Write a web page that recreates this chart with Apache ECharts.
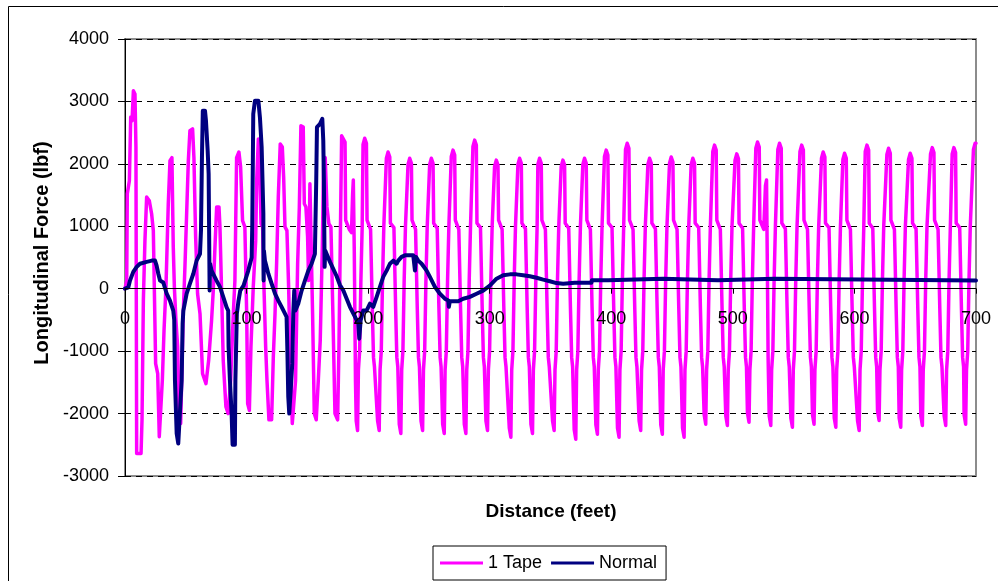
<!DOCTYPE html>
<html>
<head>
<meta charset="utf-8">
<title>Longitudinal Force vs Distance</title>
<script src="https://cdn.jsdelivr.net/npm/echarts@6/dist/echarts.min.js"></script>
<style>
  html, body { margin: 0; padding: 0; background: #ffffff; }
  #chart { width: 998px; height: 581px; }
</style>
</head>
<body>
<div id="chart"></div>
<script>
// Axis ticks
const distanceTicks = [0, 100, 200, 300, 400, 500, 600, 700];
const forceTicks = [-3000, -2000, -1000, 0, 1000, 2000, 3000, 4000];

// Series names
const seriesNames = ['1 Tape', 'Normal'];

// "1 Tape" run: [distance (ft), longitudinal force (lbf)]
const tapeForce = [
  [0,0],[1.4,130],[1.9,1520],[3.6,1730],[4.7,2750],[5.8,2690],[6.9,3170],[8.2,3120],[9.0,2270],[9.6,-2640],
  [13.2,-2640],[14.0,-2100],[15.1,-190],[16.4,770],[17.8,1470],[20.0,1410],[21.9,1200],[23.3,930],[24.1,30],
  [25.2,-1200],[26.9,-1360],[28.2,-2370],[29.3,-2400],[30.7,-1470],[32.1,-670],[33.7,30],[35.6,1360],[37.0,2050],
  [38.6,2100],[39.7,670],[40.6,30],[41.9,-510],[43.3,-930],[44.4,-1950],[45.8,-2160],[47.9,-400],[49.3,350],
  [50.7,1200],[52.1,2050],[53.4,2530],[55.6,2560],[56.7,2100],[58.1,830],[59.7,-80],[61.7,-400],[63.8,-1360],
  [66.6,-1520],[68.8,-1150],[71.2,-510],[72.6,-30],[74.0,670],[75.4,1310],[77.3,1310],[78.1,990],[79.5,-80],
  [80.8,-1150],[83.0,-1890],[84.9,-2000],[86.9,-1470],[89.1,-400],[90.4,130],[91.8,2100],[93.7,2190],[95.1,1950],
  [96.7,1090],[98.6,990],[100.1,-400],[100.9,-1840],[102.3,-1950],[103.6,-930],[105.5,30],[107.5,770],[108.3,1730],
  [109.7,2400],[110.8,1950],[111.9,1040],[113.2,990],[114.3,30],[115.7,-930],[116.8,-1470],[118.4,-2100],[120.6,-2100],
  [122.0,-1090],[123.4,-400],[124.7,400],[126.1,1470],[127.7,2320],[129.4,2270],[130.5,1790],[131.6,990],[133.2,930],
  [134.6,30],[136.0,-1200],[137.6,-2160],[139.2,-2190],[140.3,-1470],[142.0,400],[143.4,1310],[144.7,2610],[146.6,2590],
  [147.5,1360],[148.8,1310],[150.2,830],[151.0,130],[152.1,1680],[153.2,1680],[154.3,-400],[155.7,-2000],[157.3,-2100],
  [159.0,-1470],[160.6,-830],[162.3,670],[163.4,2000],[164.7,2100],[166.1,1310],[167.7,1040],[169.4,990],[171.0,-400],
  [172.7,-2000],[174.9,-2100],[176.0,-930],[177.1,770],[178.2,2450],[179.8,2430],
  [181.0,2350],[181.5,1100],[184.5,950],[186.3,900],[187.2,1500],[187.8,1740],[188.6,600],[189.6,-1500],[190.2,-2120],
  [191.3,-2270],[192.0,-1300],[193.0,-1000],[194.0,100],[195.1,1000],
  [195.8,2310],[197.2,2410],[198.6,2330],[199.1,1100],[202.0,950],[203.4,-300],[204.4,-1100],[205.2,-1250],[207.8,-2120],[209.1,-2270],[209.8,-1300],[210.8,-1000],[211.8,100],[212.9,1000],
  [215.0,2090],[216.4,2190],[217.8,2110],[218.3,1050],[221.2,980],[222.6,-300],[223.6,-1100],[224.4,-1250],[225.6,-2170],[226.9,-2320],[227.6,-1300],[228.6,-1000],[229.6,100],[230.7,1000],
  [232.8,1990],[234.2,2090],[235.6,2010],[236.1,1100],[239.0,950],[240.4,-300],[241.4,-1100],[242.2,-1250],[243.5,-2120],[244.8,-2270],[245.5,-1300],[246.5,-1000],[247.5,100],[248.6,1000],
  [250.6,1990],[252.0,2090],[253.4,2010],[253.9,1050],[256.8,970],[258.2,-300],[259.2,-1100],[260.0,-1250],[261.3,-2170],[262.6,-2320],[263.3,-1300],[264.3,-1000],[265.3,100],[266.4,1000],
  [268.4,2120],[269.8,2220],[271.2,2140],[271.7,1100],[274.6,950],[276.0,-300],[277.0,-1100],[277.8,-1250],[279.1,-2170],[280.4,-2320],[281.1,-1300],[282.1,-1000],[283.1,100],[284.2,1000],
  [286.2,2280],[287.6,2380],[289.0,2300],[289.5,1050],[292.4,980],[293.8,-300],[294.8,-1100],[295.6,-1250],[296.9,-2120],[298.2,-2270],[298.9,-1300],[299.9,-1000],[300.9,100],[302.0,1000],
  [304.0,1960],[305.4,2060],[306.8,1980],[307.3,1100],[310.2,950],[311.6,-300],[312.6,-1100],[313.4,-1250],[316.1,-2230],[317.4,-2380],[318.1,-1300],[319.1,-1000],[320.1,100],[321.2,1000],
  [323.2,1990],[324.6,2090],[326.0,2010],[326.5,1050],[329.4,960],[330.8,-300],[331.8,-1100],[332.6,-1250],[333.9,-2170],[335.2,-2320],[335.9,-1300],[336.9,-1000],[337.9,100],[339.0,1000],
  [339.6,1990],[341.0,2090],[342.4,2010],[342.9,1100],[345.8,950],[347.2,-300],[348.2,-1100],[349.0,-1250],[351.7,-2120],[353.0,-2270],[353.7,-1300],[354.7,-1000],[355.7,100],[356.8,1000],
  [358.8,1960],[360.2,2060],[361.6,1980],[362.1,1050],[365.0,970],[366.4,-300],[367.4,-1100],[368.2,-1250],[369.5,-2260],[370.8,-2410],[371.5,-1300],[372.5,-1000],[373.5,100],[374.6,1000],
  [376.6,1990],[378.0,2090],[379.4,2010],[379.9,1100],[382.8,950],[384.2,-300],[385.2,-1100],[386.0,-1250],[387.3,-2180],[388.6,-2330],[389.3,-1300],[390.3,-1000],[391.3,100],[392.4,1000],
  [394.4,2120],[395.8,2220],[397.2,2140],[397.7,1050],[400.6,980],[402.0,-300],[403.0,-1100],[403.8,-1250],[405.1,-2230],[406.4,-2380],[407.1,-1300],[408.1,-1000],[409.1,100],[410.2,1000],
  [411.7,2230],[413.1,2330],[414.5,2250],[415.0,1100],[417.9,950],[419.3,-300],[420.3,-1100],[421.1,-1250],[422.9,-2120],[424.2,-2270],[424.9,-1300],[425.9,-1000],[426.9,100],[428.0,1000],
  [430.1,1990],[431.5,2090],[432.9,2010],[433.4,1050],[436.3,960],[437.7,-300],[438.7,-1100],[439.5,-1250],[440.7,-2180],[442.0,-2330],[442.7,-1300],[443.7,-1000],[444.7,100],[445.8,1000],
  [447.9,2010],[449.3,2110],[450.7,2030],[451.2,1100],[454.1,950],[455.5,-300],[456.5,-1100],[457.3,-1250],[458.6,-2230],[459.9,-2380],[460.6,-1300],[461.6,-1000],[462.6,100],[463.7,1000],
  [465.7,1990],[467.1,2090],[468.5,2010],[469.0,1050],[471.9,980],[473.3,-300],[474.3,-1100],[475.1,-1250],[476.4,-2020],[477.7,-2170],[478.4,-1300],[479.4,-1000],[480.4,100],[481.5,1000],
  [483.5,2200],[484.9,2300],[486.3,2220],[486.8,1100],[489.7,950],[491.1,-300],[492.1,-1100],[492.9,-1250],[494.2,-2040],[495.5,-2190],[496.2,-1300],[497.2,-1000],[498.2,100],[499.3,1000],
  [501.8,2060],[503.2,2160],[504.6,2080],[505.1,1050],[508.0,970],[509.4,-300],[510.4,-1100],[511.2,-1250],[512.0,-1990],[513.3,-2140],[514.0,-1300],[515.0,-1000],[516.0,100],[517.1,1000],
  [518.9,2250],[520.3,2350],[521.7,2270],[522.2,1100],[525.4,950],[526.8,1650],[527.7,1740],[528.4,300],[529.0,-1100],[529.9,-2040],[531.2,-2190],[531.9,-1300],[532.9,-1000],[533.9,100],[535.0,1000],
  [537.0,2230],[538.4,2330],[539.8,2250],[540.3,1050],[543.2,960],[544.6,-300],[545.6,-1100],[546.4,-1250],[547.7,-2070],[549.0,-2220],[549.7,-1300],[550.7,-1000],[551.7,100],[552.8,1000],
  [555.2,2200],[556.6,2300],[558.0,2220],[558.5,1100],[561.4,950],[562.8,-300],[563.8,-1100],[564.6,-1250],[565.5,-2020],[566.8,-2170],[567.5,-1300],[568.5,-1000],[569.5,100],[570.6,1000],
  [572.9,2090],[574.3,2190],[575.7,2110],[576.2,1050],[579.1,980],[580.5,-300],[581.5,-1100],[582.3,-1250],[583.4,-2070],[584.7,-2220],[585.4,-1300],[586.4,-1000],[587.4,100],[588.5,1000],
  [590.5,2070],[591.9,2170],[593.3,2090],[593.8,1100],[596.7,950],[598.1,-300],[599.1,-1100],[599.9,-1250],[602.6,-2120],[603.9,-2270],[604.6,-1300],[605.6,-1000],[606.6,100],[607.7,1000],
  [608.9,2200],[610.3,2300],[611.7,2220],[612.2,1050],[615.1,970],[616.5,-300],[617.5,-1100],[618.3,-1250],[619.0,-1960],[620.3,-2110],[621.0,-1300],[622.0,-1000],[623.0,100],[624.1,1000],
  [626.7,2150],[628.1,2250],[629.5,2170],[630.0,1100],[632.9,950],[634.3,-300],[635.3,-1100],[636.1,-1250],[636.8,-2070],[638.1,-2220],[638.8,-1300],[639.8,-1000],[640.8,100],[641.9,1000],
  [644.5,2070],[645.9,2170],[647.3,2090],[647.8,1050],[650.7,960],[652.1,-300],[653.1,-1100],[653.9,-1250],[654.6,-2040],[655.9,-2190],[656.6,-1300],[657.6,-1000],[658.6,100],[659.7,1000],
  [662.6,2160],[664.0,2260],[665.4,2180],[665.9,1100],[668.8,950],[670.2,-300],[671.2,-1100],[672.0,-1250],[673.8,-2040],[675.1,-2190],[675.8,-1300],[676.8,-1000],[677.8,100],[678.9,1000],
  [680.4,2160],[681.8,2260],[683.2,2180],[683.7,1050],[686.6,980],[688.0,-300],[689.0,-1100],[689.8,-1250],[690.2,-2020],[691.5,-2170],[692.2,-1300],[693.2,-1000],[694.2,100],[695.3,1000],
  [697.9,2230],[699.3,2330],[700,2330]
];

// "Normal" run: [distance (ft), longitudinal force (lbf)]
const normalForce = [
  [0,0],[2.7,20],[4.1,130],[6.8,270],[9.6,350],[12.3,400],[17.8,430],[22.0,450],[24.7,450],[26.0,370],
  [27.4,240],[28.8,130],[31.5,100],[34.3,-80],[37.0,-190],[39.7,-350],[40.5,-500],[41.1,-1470],[42.5,-2320],
  [43.8,-2480],[45.2,-2450],[46.6,-1470],[47.4,-560],[48.0,-350],[50.7,-80],[53.4,80],[56.2,240],[58.9,450],
  [61.7,560],[62.5,930],[63.3,2100],[64.0,2850],[65.8,2850],[66.6,2690],[68.0,2210],[68.8,1840],[69.6,-30],
  [70.0,400],[71.2,290],[75.3,130],[78.1,30],[80.8,-130],[83.6,-300],[84.9,-350],[85.2,-930],[86.3,-1470],
  [87.7,-2000],[88.5,-2500],[90.4,-2500],[90.8,-1470],[92.0,-400],[93.4,-190],[94.8,-30],[97.5,50],[101.4,290],
  [104.2,500],[104.7,1040],[105.5,2800],[106.9,3010],[109.7,3010],[111.0,2740],[112.4,2270],[113.8,1200],
  [114.0,130],[114.3,610],[115.1,450],[117.9,240],[120.6,80],[123.4,-80],[126.1,-190],[128.8,-290],[131.6,-400],
  [132.9,-450],[133.5,-930],[134.3,-1730],[135.1,-2000],[136.5,-2000],[137.6,-1200],[138.4,-400],[139.2,-30],
  [140.1,-350],[142.5,-240],[145.3,-30],[148.0,130],[150.8,290],[153.5,400],[156.2,560],[156.8,1200],[157.3,1730],
  [157.9,2590],[160.4,2640],[162.3,2720],[163.1,2370],[163.6,1730],[164.2,350],[164.7,610],[165.8,560],[168.6,430],
  [174.1,200],[176.8,60],[179.6,-30],[185.0,-290],[189.2,-450],[191.9,-560],[192.7,-800],[193.8,-510],[196.0,-350],
  [198.7,-350],[201.5,-240],[204.2,-290],[207.0,-130],[209.7,30],[212.4,190],[215.2,290],[217.9,400],[220.7,450],
  [223.4,400],[224.8,450],[227.5,510],[230.3,535],[234.4,535],[237.1,535],[238.5,290],[239.3,510],[241.2,450],
  [244.0,400],[248.1,290],[250.8,190],[254.9,30],[259.0,-80],[263.1,-160],[265.9,-190],[266.4,-290],[267.2,-200],
  [274.1,-200],[278.2,-160],[283.7,-130],[289.2,-80],[294.6,-30],[300.1,50],[305.6,160],[311.1,215],[316.6,230],
  [322.0,230],[327.5,215],[333.0,200],[338.5,175],[344.0,145],[349.4,120],[354.9,90],[360.4,80],[370.0,95],
  [383.7,95],[384.0,135],[397.4,135],[397.7,160],[442.6,160],[442.9,135],[487.8,135],[488.1,160],[534.4,160],
  [534.7,135],[700,130]
];

const FONT = '"Liberation Sans", Arial, sans-serif';

// Plot rectangle
const plot = { left: 125, top: 39, width: 851, height: 437 };
const yMin = forceTicks[0];
const yMax = forceTicks[forceTicks.length - 1];
// The distance axis runs along the zero-force line
const zeroLineOffset = -plot.height * (0 - yMin) / (yMax - yMin);

const chart = echarts.init(document.getElementById('chart'), null, { renderer: 'canvas' });

chart.setOption({
  animation: false,
  backgroundColor: '#ffffff',
  textStyle: { fontFamily: FONT, color: '#000' },
  grid: {
    left: plot.left, top: plot.top, width: plot.width, height: plot.height,
    show: true, borderColor: '#8c8c8c', borderWidth: 2, backgroundColor: '#ffffff'
  },
  xAxis: {
    type: 'value',
    position: 'bottom',
    offset: zeroLineOffset,
    z: 10,
    min: distanceTicks[0],
    max: distanceTicks[distanceTicks.length - 1],
    interval: distanceTicks[1] - distanceTicks[0],
    axisLine: { show: true, onZero: false, lineStyle: { color: '#000', width: 1 } },
    axisTick: { show: true, length: 5, lineStyle: { color: '#000' } },
    axisLabel: { fontSize: 18, color: '#000', margin: 21, fontFamily: FONT, formatter: v => String(v) },
    splitLine: { show: false }
  },
  yAxis: {
    type: 'value',
    min: yMin,
    max: yMax,
    interval: forceTicks[1] - forceTicks[0],
    axisLine: { show: true, onZero: false, lineStyle: { color: '#000', width: 1 } },
    axisTick: { show: true, length: 7, lineStyle: { color: '#000' } },
    axisLabel: { fontSize: 18, color: '#000', margin: 16, fontFamily: FONT, formatter: v => String(v) },
    splitLine: { show: true, lineStyle: { color: '#000', width: 1, type: [6, 5] } }
  },
  legend: {
    data: seriesNames,
    left: 433, top: 546,
    orient: 'horizontal',
    icon: 'rect',
    itemWidth: 43, itemHeight: 3, itemGap: 9,
    padding: [8, 9, 8, 7],
    borderColor: '#000', borderWidth: 1,
    backgroundColor: '#ffffff',
    textStyle: { fontSize: 18, color: '#000', fontFamily: FONT }
  },
  graphic: [
    {
      type: 'rect', silent: true,
      shape: { x: 8.5, y: 6.5, width: 1100, height: 700 },
      style: { fill: 'none', stroke: '#000', lineWidth: 1 }
    },
    {
      type: 'text', silent: true,
      x: 42, y: 253, rotation: Math.PI / 2,
      style: {
        text: 'Longitudinal Force (lbf)',
        font: 'bold 20px ' + FONT,
        fill: '#000', align: 'center', verticalAlign: 'middle'
      }
    },
    {
      type: 'text', silent: true,
      x: 551, y: 512,
      style: {
        text: 'Distance (feet)',
        font: 'bold 19px ' + FONT,
        fill: '#000', align: 'center', verticalAlign: 'middle'
      }
    }
  ],
  series: [
    {
      name: seriesNames[0],
      type: 'line',
      data: tapeForce,
      symbol: 'none',
      color: '#ff00ff',
      lineStyle: { color: '#ff00ff', width: 3.5, join: 'round', cap: 'round' },
      z: 2
    },
    {
      name: seriesNames[1],
      type: 'line',
      data: normalForce,
      symbol: 'none',
      color: '#000080',
      lineStyle: { color: '#000080', width: 4, join: 'round', cap: 'round' },
      z: 3
    }
  ]
});
</script>
</body>
</html>
